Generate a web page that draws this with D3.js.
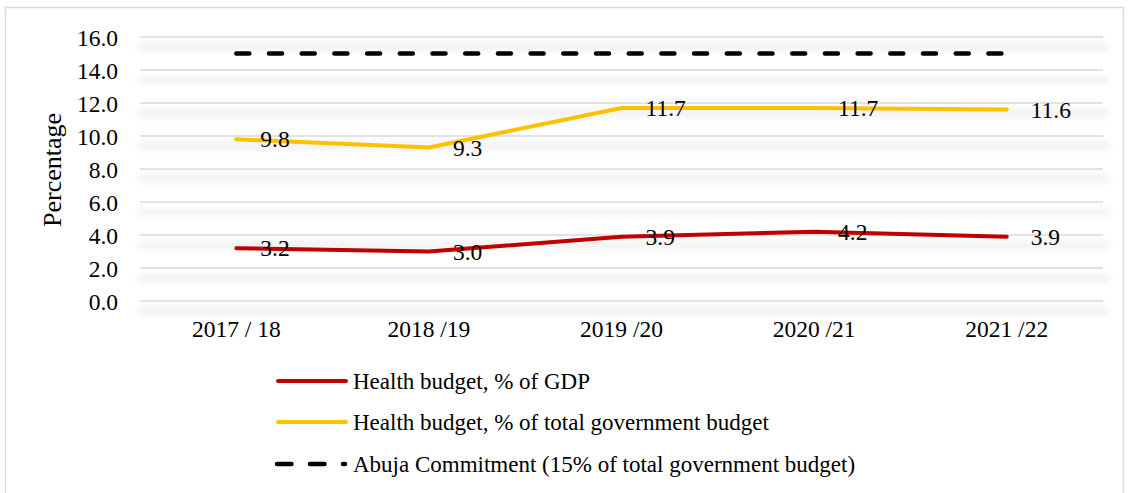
<!DOCTYPE html>
<html>
<head>
<meta charset="utf-8">
<script src="https://cdn.jsdelivr.net/npm/d3@7"></script>
<style>
  html, body { margin: 0; padding: 0; background: #fff; }
  svg { display: block; font-family: "Liberation Serif", "Times New Roman", serif; }
</style>
</head>
<body>
<svg id="chart" width="1129" height="493"></svg>
<script>
// Fiscal years on the x axis
const years = ["2017 / 18", "2018 /19", "2019 /20", "2020 /21", "2021 /22"];
// Health budget as % of GDP
const healthGdp = [3.2, 3.0, 3.9, 4.2, 3.9];
// Health budget as % of total government budget
const healthTotal = [9.8, 9.3, 11.7, 11.7, 11.6];
// Abuja Declaration target (15% of total government budget)
const abuja = [15, 15, 15, 15, 15];
// Y axis ticks
const yTicks = [0, 2, 4, 6, 8, 10, 12, 14, 16];
const legendLabels = [
  "Health budget, % of GDP",
  "Health budget, % of total government budget",
  "Abuja Commitment (15% of total government budget)"
];

(function () {
const svg = d3.select("#chart");
const plotLeft = 140, plotRight = 1103, plotTop = 37, plotBottom = 301;
const FS = 23.5;

const x = d3.scaleBand().domain(years).range([plotLeft, plotRight]);
const y = d3.scaleLinear().domain([0, 16]).range([plotBottom, plotTop]);
const cx = d => x(d) + x.bandwidth() / 2;

// Outer frame
svg.append("rect")
  .attr("x", 5.5).attr("y", 7.5).attr("width", 1118).attr("height", 500)
  .attr("fill", "none").attr("stroke", "#d9d9d9").attr("stroke-width", 1.5);

// Soft shadow under gridlines
const defs = svg.append("defs");
defs.append("filter").attr("id", "soft")
  .attr("x", "-5%").attr("y", "-200%").attr("width", "110%").attr("height", "500%")
  .append("feGaussianBlur").attr("stdDeviation", 3);

svg.append("g").attr("filter", "url(#soft)")
  .selectAll("line").data(yTicks).join("line")
  .attr("x1", plotLeft - 2).attr("x2", plotRight + 6)
  .attr("y1", d => y(d) + 10).attr("y2", d => y(d) + 10)
  .attr("stroke", "#f1f1f3").attr("stroke-width", 8);

// Gridlines
svg.append("g")
  .selectAll("line").data(yTicks).join("line")
  .attr("x1", plotLeft).attr("x2", plotRight)
  .attr("y1", d => y(d)).attr("y2", d => y(d))
  .attr("stroke", "#d9d9d9").attr("stroke-width", 1.5);

// Y axis labels
const yAxis = d3.axisLeft(y).tickValues(yTicks).tickFormat(d3.format(".1f")).tickSize(0).tickPadding(22);
const yg = svg.append("g").attr("transform", `translate(${plotLeft},0)`).call(yAxis);
yg.select(".domain").remove();
yg.attr("font-size", null).attr("font-family", null);
yg.selectAll("text").attr("font-size", FS).attr("fill", "#000").attr("dy", "0.34em");

svg.append("text")
  .attr("transform", `translate(61,${(plotTop + plotBottom) / 2 + 1}) rotate(-90)`)
  .attr("text-anchor", "middle").attr("font-size", 26).attr("fill", "#000")
  .text("Percentage");

// X axis labels
const xAxis = d3.axisBottom(x).tickSize(0).tickPadding(0);
const xg = svg.append("g").attr("transform", `translate(0,${plotBottom})`).call(xAxis);
xg.select(".domain").remove();
xg.attr("font-size", null).attr("font-family", null);
xg.selectAll("text").attr("font-size", FS).attr("fill", "#000").attr("y", 36).attr("dy", 0);

const line = d3.line().x((d, i) => cx(years[i])).y(d => y(d));

// Abuja commitment dashed line
svg.append("path").datum(abuja)
  .attr("d", line).attr("fill", "none")
  .attr("stroke", "#000").attr("stroke-width", 4.5)
  .attr("stroke-linecap", "round")
  .attr("stroke-dasharray", "13 19.7");

const series = [
  { values: healthTotal, color: "#FFC000" },
  { values: healthGdp, color: "#C00000" }
];

series.forEach(s => {
  svg.append("path").datum(s.values)
    .attr("d", line).attr("fill", "none")
    .attr("stroke", s.color).attr("stroke-width", 4)
    .attr("stroke-linecap", "round").attr("stroke-linejoin", "round");
});

// Data labels to the right of each point
series.forEach(s => {
  svg.append("g").selectAll("text").data(s.values).join("text")
    .attr("x", (d, i) => cx(years[i]) + 24)
    .attr("y", d => y(d) + 8)
    .attr("font-size", FS).attr("fill", "#000")
    .text(d => d3.format(".1f")(d));
});

// Legend
const legendY = [381, 422, 464];
const lg = svg.append("g");
legendLabels.forEach((t, i) => {
  const yy = legendY[i];
  if (i < 2) {
    lg.append("line").attr("x1", 278).attr("x2", 346).attr("y1", yy).attr("y2", yy)
      .attr("stroke", i === 0 ? "#C00000" : "#FFC000").attr("stroke-width", 4)
      .attr("stroke-linecap", "round");
  } else {
    lg.append("line").attr("x1", 277).attr("x2", 345).attr("y1", yy).attr("y2", yy)
      .attr("stroke", "#000").attr("stroke-width", 4.5)
      .attr("stroke-linecap", "round").attr("stroke-dasharray", "14.5 18.5");
  }
  lg.append("text").attr("x", 353).attr("y", yy + 8)
    .attr("font-size", 23).attr("fill", "#000").text(t);
});
})();
</script>
</body>
</html>
